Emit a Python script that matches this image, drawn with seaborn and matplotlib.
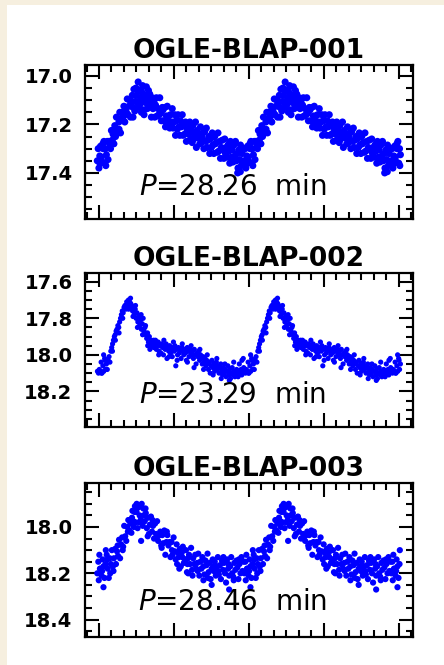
import numpy as np
import pandas as pd
import matplotlib
matplotlib.use("Agg")
import matplotlib.pyplot as plt
from matplotlib.patches import Rectangle
from matplotlib.ticker import FixedLocator, MultipleLocator, FormatStrFormatter
import seaborn as sns

# ---------------- data (one pulsation cycle per star, phase / I mag) ----------------
titles = ["OGLE-BLAP-001", "OGLE-BLAP-002", "OGLE-BLAP-003"]
periods = ["28.26", "23.29", "28.46"]

phase1 = [0.002, 0.008, 0.013, 0.019, 0.024, 0.030, 0.036, 0.041, 0.047, 0.053,
          0.058, 0.064, 0.070, 0.075, 0.081, 0.087, 0.092, 0.098, 0.104, 0.109,
          0.115, 0.121, 0.126, 0.132, 0.138, 0.143, 0.149, 0.155, 0.160, 0.166,
          0.172, 0.177, 0.183, 0.189, 0.194, 0.200, 0.206, 0.211, 0.217, 0.223,
          0.228, 0.234, 0.240, 0.245, 0.251, 0.257, 0.262, 0.268, 0.274, 0.279,
          0.285, 0.291, 0.296, 0.302, 0.308, 0.313, 0.319, 0.325, 0.330, 0.336,
          0.342, 0.347, 0.353, 0.359, 0.364, 0.370, 0.376, 0.381, 0.387, 0.393,
          0.398, 0.404, 0.410, 0.415, 0.421, 0.427, 0.432, 0.438, 0.444, 0.449,
          0.455, 0.461, 0.466, 0.472, 0.478, 0.483, 0.489, 0.495, 0.500, 0.506,
          0.512, 0.517, 0.523, 0.529, 0.534, 0.540, 0.546, 0.551, 0.557, 0.563,
          0.568, 0.574, 0.580, 0.585, 0.591, 0.597, 0.602, 0.608, 0.614, 0.619,
          0.625, 0.631, 0.636, 0.642, 0.648, 0.653, 0.659, 0.665, 0.670, 0.676,
          0.682, 0.687, 0.693, 0.699, 0.704, 0.710, 0.716, 0.721, 0.727, 0.733,
          0.738, 0.744, 0.750, 0.755, 0.761, 0.767, 0.772, 0.778, 0.784, 0.789,
          0.795, 0.801, 0.806, 0.812, 0.818, 0.823, 0.829, 0.835, 0.840, 0.846,
          0.852, 0.857, 0.863, 0.869, 0.874, 0.880, 0.886, 0.891, 0.897, 0.903,
          0.908, 0.914, 0.920, 0.925, 0.931, 0.937, 0.942, 0.948, 0.954, 0.959,
          0.965, 0.971, 0.976, 0.982, 0.988, 0.993, 0.999,
          0.280, 0.957, 0.975, 0.265, 0.300, 0.320, 0.150, 0.190, 0.060, 0.020,
          0.040, 0.310, 0.245, 0.350]
mag1 = [17.35, 17.30, 17.38, 17.33, 17.29, 17.335, 17.355, 17.30, 17.27, 17.36,
        17.30, 17.325, 17.27, 17.345, 17.27, 17.28, 17.30, 17.225, 17.265, 17.24,
        17.28, 17.205, 17.25, 17.17, 17.225, 17.235, 17.19, 17.15, 17.235, 17.175,
        17.15, 17.18, 17.125, 17.19, 17.135, 17.15, 17.095, 17.16, 17.125, 17.10,
        17.17, 17.105, 17.08, 17.13, 17.055, 17.145, 17.105, 17.08, 17.11, 17.13,
        17.06, 17.12, 17.09, 17.15, 17.07, 17.10, 17.14, 17.08, 17.11, 17.045,
        17.135, 17.10, 17.13, 17.075, 17.115, 17.17, 17.09, 17.135, 17.105, 17.17,
        17.12, 17.09, 17.165, 17.135, 17.16, 17.09, 17.155, 17.185, 17.13, 17.14,
        17.185, 17.13, 17.21, 17.165, 17.125, 17.19, 17.165, 17.215, 17.16, 17.19,
        17.135, 17.215, 17.19, 17.16, 17.245, 17.185, 17.22, 17.16, 17.21, 17.245,
        17.185, 17.21, 17.16, 17.245, 17.205, 17.24, 17.19, 17.27, 17.225, 17.205,
        17.24, 17.19, 17.26, 17.225, 17.275, 17.205, 17.26, 17.24, 17.19, 17.295,
        17.225, 17.255, 17.24, 17.28, 17.21, 17.275, 17.255, 17.235, 17.30, 17.23,
        17.27, 17.215, 17.295, 17.265, 17.25, 17.32, 17.26, 17.295, 17.235, 17.285,
        17.32, 17.25, 17.28, 17.275, 17.315, 17.235, 17.31, 17.27, 17.34, 17.295,
        17.265, 17.305, 17.34, 17.26, 17.32, 17.295, 17.335, 17.285, 17.31, 17.36,
        17.27, 17.335, 17.305, 17.355, 17.285, 17.33, 17.27, 17.35, 17.32, 17.38,
        17.305, 17.345, 17.285, 17.37, 17.32, 17.36, 17.30,
        17.025, 17.40, 17.395, 17.05, 17.06, 17.16, 17.22, 17.16, 17.37, 17.36,
        17.28, 17.04, 17.17, 17.06]

phase2 = [0.003, 0.010, 0.016, 0.022, 0.028, 0.034, 0.040, 0.046, 0.052, 0.058,
          0.064, 0.070, 0.076, 0.082, 0.088, 0.094, 0.100, 0.106, 0.112, 0.118,
          0.124, 0.130, 0.136, 0.142, 0.148, 0.154, 0.160, 0.166, 0.172, 0.178,
          0.184, 0.190, 0.196, 0.202, 0.208, 0.214, 0.218, 0.222, 0.226, 0.230,
          0.236, 0.242, 0.248, 0.254, 0.260, 0.266, 0.272, 0.278, 0.284, 0.290,
          0.296, 0.302, 0.308, 0.314, 0.320, 0.326, 0.332, 0.338, 0.344, 0.350,
          0.356, 0.362, 0.368, 0.374, 0.380, 0.386, 0.392, 0.398, 0.404, 0.410,
          0.416, 0.422, 0.428, 0.434, 0.440, 0.446, 0.452, 0.458, 0.464, 0.470,
          0.476, 0.482, 0.488, 0.494, 0.500, 0.506, 0.512, 0.518, 0.524, 0.530,
          0.536, 0.542, 0.548, 0.554, 0.560, 0.566, 0.572, 0.578, 0.584, 0.590,
          0.596, 0.602, 0.608, 0.614, 0.620, 0.626, 0.632, 0.638, 0.644, 0.650,
          0.656, 0.662, 0.668, 0.674, 0.680, 0.686, 0.692, 0.698, 0.704, 0.710,
          0.716, 0.722, 0.728, 0.734, 0.740, 0.746, 0.752, 0.758, 0.764, 0.770,
          0.776, 0.782, 0.788, 0.794, 0.800, 0.806, 0.812, 0.818, 0.824, 0.830,
          0.836, 0.842, 0.848, 0.854, 0.860, 0.866, 0.872, 0.878, 0.884, 0.890,
          0.896, 0.902, 0.908, 0.914, 0.920, 0.926, 0.932, 0.938, 0.944, 0.950,
          0.956, 0.962, 0.968, 0.974, 0.980, 0.986, 0.992, 0.998,
          0.030, 0.045, 0.055, 0.105, 0.125, 0.150, 0.175, 0.200, 0.215, 0.228,
          0.245, 0.262, 0.275, 0.300, 0.310, 0.330, 0.345, 0.360, 0.385, 0.420,
          0.455, 0.490, 0.520, 0.545, 0.580, 0.615, 0.640, 0.660, 0.700, 0.725,
          0.750, 0.790, 0.815, 0.845, 0.870, 0.900, 0.930, 0.960, 0.985, 0.995]
mag2 = [18.09, 18.10, 18.08, 18.09, 18.04, 18.10, 18.06, 18.09, 18.02, 18.08,
        18.05, 18.08, 18.03, 18.01, 18.04, 17.98, 17.96, 17.94, 17.92, 17.90,
        17.89, 17.87, 17.86, 17.84, 17.85, 17.82, 17.80, 17.78, 17.76, 17.77,
        17.74, 17.73, 17.75, 17.71, 17.72, 17.70, 17.73, 17.71, 17.74, 17.72,
        17.73, 17.76, 17.74, 17.78, 17.75, 17.80, 17.77, 17.82, 17.79, 17.84,
        17.81, 17.86, 17.83, 17.80, 17.87, 17.85, 17.89, 17.91, 17.88, 17.93,
        17.90, 17.94, 17.92, 17.95, 17.93, 17.96, 17.94, 17.92, 17.97, 17.95,
        17.93, 17.98, 17.95, 17.99, 17.94, 17.96, 18.00, 17.95, 17.97, 17.94,
        18.02, 17.96, 17.98, 17.95, 17.99, 17.97, 18.01, 17.96, 17.98, 17.95,
        18.06, 17.97, 18.00, 17.96, 17.99, 17.97, 18.02, 17.96, 17.98, 18.00,
        17.97, 17.99, 18.03, 17.96, 17.98, 18.01, 17.97, 17.99, 18.00, 17.98,
        18.02, 17.97, 18.00, 18.05, 17.99, 18.01, 17.98, 18.03, 18.00, 18.02,
        18.05, 18.01, 18.04, 18.02, 18.06, 18.03, 18.05, 18.08, 18.04, 18.10,
        18.06, 18.03, 18.07, 18.05, 18.09, 18.06, 18.04, 18.08, 18.06, 18.10,
        18.07, 18.05, 18.09, 18.11, 18.07, 18.10, 18.08, 18.12, 18.09, 18.06,
        18.11, 18.08, 18.13, 18.10, 18.07, 18.11, 18.09, 18.12, 18.10, 18.08,
        18.11, 18.09, 18.05, 18.10, 18.08, 18.03, 18.09, 18.07,
        18.10, 18.00, 18.03, 17.98, 17.92, 17.88, 17.80, 17.74, 17.75, 17.69,
        17.79, 17.73, 17.85, 17.78, 17.89, 17.84, 17.95, 17.97, 17.92, 18.00,
        17.92, 18.01, 17.93, 18.03, 17.94, 18.04, 17.95, 18.07, 17.97, 18.08,
        18.00, 18.11, 18.02, 18.13, 18.05, 18.14, 18.04, 18.12, 18.11, 18.02]

phase3 = [0.002, 0.009, 0.016, 0.024, 0.031, 0.038, 0.044, 0.051, 0.058, 0.066,
          0.073, 0.080, 0.087, 0.094, 0.101, 0.108, 0.115, 0.122, 0.129, 0.136,
          0.143, 0.150, 0.157, 0.164, 0.171, 0.178, 0.185, 0.192, 0.199, 0.206,
          0.213, 0.220, 0.227, 0.234, 0.241, 0.248, 0.255, 0.262, 0.269, 0.276,
          0.283, 0.290, 0.297, 0.304, 0.311, 0.318, 0.325, 0.332, 0.339, 0.346,
          0.353, 0.360, 0.367, 0.374, 0.381, 0.388, 0.395, 0.402, 0.409, 0.416,
          0.423, 0.430, 0.437, 0.444, 0.451, 0.458, 0.465, 0.472, 0.479, 0.486,
          0.493, 0.500, 0.507, 0.514, 0.521, 0.528, 0.535, 0.542, 0.549, 0.556,
          0.563, 0.570, 0.577, 0.584, 0.591, 0.598, 0.605, 0.612, 0.619, 0.626,
          0.633, 0.640, 0.647, 0.654, 0.661, 0.668, 0.675, 0.682, 0.689, 0.696,
          0.703, 0.710, 0.717, 0.724, 0.731, 0.738, 0.745, 0.752, 0.759, 0.766,
          0.773, 0.780, 0.787, 0.794, 0.801, 0.808, 0.815, 0.822, 0.829, 0.836,
          0.843, 0.850, 0.857, 0.864, 0.871, 0.878, 0.885, 0.892, 0.899, 0.906,
          0.913, 0.920, 0.927, 0.934, 0.941, 0.948, 0.955, 0.962, 0.969, 0.976,
          0.983, 0.990, 0.997,
          0.300, 0.060, 0.020, 0.044, 0.899, 0.780, 0.724, 0.560, 0.620, 0.270,
          0.250, 0.330, 0.090,
          0.012, 0.035, 0.070, 0.112, 0.140, 0.175, 0.210, 0.238, 0.258, 0.287,
          0.315, 0.345, 0.378, 0.412, 0.440, 0.475, 0.510, 0.545, 0.580, 0.615,
          0.650, 0.685, 0.720, 0.755, 0.790, 0.825, 0.860, 0.895, 0.930, 0.965]
mag3 = [18.20, 18.15, 18.12, 18.18, 18.21, 18.14, 18.17, 18.22, 18.16, 18.12,
        18.18, 18.22, 18.135, 18.16, 18.10, 18.17, 18.135, 18.095, 18.16, 18.105,
        18.125, 18.055, 18.135, 18.075, 18.045, 18.085, 17.995, 18.04, 18.06, 18.00,
        17.97, 18.015, 17.985, 18.025, 17.93, 17.975, 17.935, 17.98, 17.935, 18.005,
        17.915, 17.95, 17.97, 17.90, 17.995, 17.95, 17.975, 17.94, 18.005, 17.96,
        18.03, 17.99, 17.955, 18.02, 17.995, 18.05, 17.985, 18.03, 17.975, 18.06,
        18.035, 18.02, 18.08, 18.035, 18.07, 18.015, 18.12, 18.065, 18.035, 18.08,
        18.065, 18.13, 18.065, 18.12, 18.045, 18.105, 18.14, 18.075, 18.11, 18.13,
        18.095, 18.17, 18.11, 18.085, 18.155, 18.14, 18.10, 18.195, 18.135, 18.12,
        18.16, 18.09, 18.185, 18.135, 18.16, 18.12, 18.18, 18.155, 18.115, 18.21,
        18.15, 18.18, 18.13, 18.17, 18.205, 18.145, 18.165, 18.115, 18.195, 18.155,
        18.225, 18.18, 18.14, 18.19, 18.15, 18.21, 18.17, 18.13, 18.205, 18.165,
        18.225, 18.145, 18.185, 18.155, 18.20, 18.24, 18.14, 18.18, 18.21, 18.17,
        18.13, 18.20, 18.215, 18.155, 18.185, 18.145, 18.175, 18.225, 18.16, 18.20,
        18.13, 18.19, 18.15,
        18.06, 18.10, 18.18, 18.26, 18.27, 18.25, 18.23, 18.18, 18.20, 17.90,
        18.00, 17.92, 18.20,
        18.23, 18.19, 18.14, 18.19, 18.08, 18.10, 18.02, 17.96, 17.91, 17.98,
        17.92, 18.04, 17.97, 18.04, 18.09, 18.02, 18.10, 18.16, 18.13, 18.16,
        18.21, 18.19, 18.14, 18.22, 18.17, 18.19, 18.13, 18.16, 18.23, 18.14]

phases = [phase1, phase2, phase3]
mags = [mag1, mag2, mag3]
ylims = [(17.59, 16.955), (18.395, 17.552), (18.475, 17.81)]
ymajor = [[17.0, 17.2, 17.4], [17.6, 17.8, 18.0, 18.2], [18.0, 18.2, 18.4]]
label_y = [0.21, 0.21, 0.23]
msize = [26, 14, 20]

# ---------------- figure ----------------
sns.set_theme(style="white")
plt.rcParams['font.family'] = ['DejaVu Sans']
plt.rcParams['mathtext.fontset'] = 'dejavusans'

W, H = 444, 665
fig = plt.figure(figsize=(W / 100, H / 100), dpi=100)
fig.patch.set_facecolor('#f6efdf')
bg = Rectangle((7 / W, 0), (W - 7) / W, (H - 5) / H, transform=fig.transFigure,
               facecolor='white', edgecolor='none', zorder=-10)
fig.add_artist(bg)

left_px, right_px = 85, 413
tops = [65, 273, 483]
hpx = 154
x0_px, per_px = 97, 147.0
xlim = ((left_px - x0_px) / per_px, (right_px - x0_px) / per_px)
xmaj = [(99 - x0_px) / per_px + 0.51 * k for k in range(5)]
xmin = [(99 - x0_px) / per_px + 0.085 * k for k in range(-1, 26)]

for i in range(3):
    ax = fig.add_axes([left_px / W, 1 - (tops[i] + hpx) / H,
                       (right_px - left_px) / W, hpx / H])
    ax.set_zorder(1)
    ph = np.array(phases[i])
    mg = np.array(mags[i])
    df = pd.concat([pd.DataFrame({'phase': ph + k, 'mag': mg}) for k in range(3)])
    df = df[df['phase'] <= 2.065]
    sns.scatterplot(data=df, x='phase', y='mag', ax=ax, color='#0000ff',
                    s=msize[i], linewidth=0, edgecolor='none', legend=False)
    ax.set_xlim(*xlim)
    ax.set_ylim(*ylims[i])
    ax.set_xlabel('')
    ax.set_ylabel('')
    ax.xaxis.set_major_locator(FixedLocator(xmaj))
    ax.xaxis.set_minor_locator(FixedLocator(xmin))
    ax.yaxis.set_major_locator(FixedLocator(ymajor[i]))
    ax.yaxis.set_minor_locator(MultipleLocator(0.05))
    ax.yaxis.set_major_formatter(FormatStrFormatter('%.1f'))
    ax.tick_params(which='both', direction='in', top=True, right=True,
                   bottom=True, left=True, color='black', width=1.5,
                   labelbottom=False)
    ax.tick_params(which='major', length=10, labelsize=14, pad=9,
                   labelcolor='black')
    ax.tick_params(which='minor', length=5)
    for lab in ax.get_yticklabels():
        lab.set_fontweight('bold')
    for sp in ax.spines.values():
        sp.set_linewidth(1.6)
        sp.set_color('black')
    ax.set_title(titles[i], fontsize=19, fontweight='bold', color='black', pad=5)
    ax.text(0.45, label_y[i], r'$P$=' + periods[i] + '  min', transform=ax.transAxes,
            ha='center', va='center', fontsize=20, color='black')

fig.savefig('out.png', dpi=100, facecolor=fig.get_facecolor())
